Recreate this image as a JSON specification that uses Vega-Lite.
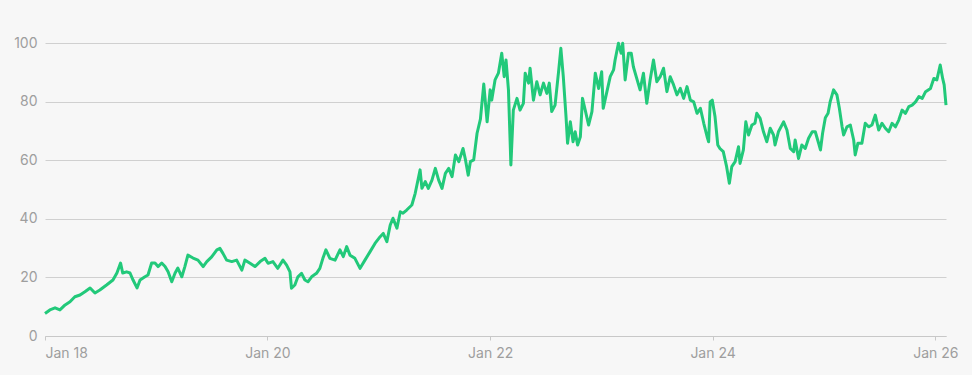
{
  "$schema": "https://vega.github.io/schema/vega-lite/v6.json",
  "width": 901,
  "height": 293,
  "autosize": "none",
  "padding": {"left": 45, "top": 43, "right": 26, "bottom": 39},
  "background": "#f7f7f7",
  "config": {
    "view": {"stroke": null},
    "font": "Inter",
    "axis": {"labelFont": "Inter", "labelColor": "#9e9e9e", "labelFontSize": 14, "titleFont": "Inter"}
  },
  "data": {
    "values": [
      {"d": "2018-01-01", "v": 7.7}, {"d": "2018-01-17", "v": 8.9}, {"d": "2018-02-03", "v": 9.6}, {"d": "2018-02-19", "v": 8.9},
      {"d": "2018-03-08", "v": 10.6}, {"d": "2018-03-24", "v": 11.7}, {"d": "2018-04-09", "v": 13.4}, {"d": "2018-04-26", "v": 14.0},
      {"d": "2018-05-12", "v": 15.1}, {"d": "2018-05-29", "v": 16.4}, {"d": "2018-06-14", "v": 14.7}, {"d": "2018-06-30", "v": 15.7},
      {"d": "2018-07-22", "v": 17.4}, {"d": "2018-08-12", "v": 19.1}, {"d": "2018-08-25", "v": 21.5}, {"d": "2018-09-06", "v": 24.9},
      {"d": "2018-09-13", "v": 21.5}, {"d": "2018-09-26", "v": 21.9}, {"d": "2018-10-07", "v": 21.5}, {"d": "2018-10-17", "v": 19.1},
      {"d": "2018-10-30", "v": 16.4}, {"d": "2018-11-09", "v": 19.1}, {"d": "2018-11-25", "v": 20.2}, {"d": "2018-12-05", "v": 20.8},
      {"d": "2018-12-17", "v": 24.9}, {"d": "2018-12-28", "v": 24.9},
      {"d": "2019-01-07", "v": 23.7}, {"d": "2019-01-19", "v": 24.9}, {"d": "2019-01-30", "v": 23.7}, {"d": "2019-02-09", "v": 21.9},
      {"d": "2019-02-21", "v": 18.5}, {"d": "2019-03-04", "v": 21.5}, {"d": "2019-03-13", "v": 23.2}, {"d": "2019-03-26", "v": 20.2},
      {"d": "2019-04-05", "v": 23.7}, {"d": "2019-04-15", "v": 27.6}, {"d": "2019-05-02", "v": 26.6}, {"d": "2019-05-18", "v": 25.9},
      {"d": "2019-06-04", "v": 23.7}, {"d": "2019-06-16", "v": 25.4}, {"d": "2019-07-02", "v": 27.0}, {"d": "2019-07-19", "v": 29.4},
      {"d": "2019-07-29", "v": 29.9}, {"d": "2019-08-08", "v": 28.2}, {"d": "2019-08-20", "v": 25.9}, {"d": "2019-09-06", "v": 25.4},
      {"d": "2019-09-22", "v": 25.9}, {"d": "2019-10-09", "v": 22.5}, {"d": "2019-10-19", "v": 25.9}, {"d": "2019-11-05", "v": 24.8},
      {"d": "2019-11-21", "v": 23.7}, {"d": "2019-12-08", "v": 25.4}, {"d": "2019-12-24", "v": 26.5},
      {"d": "2020-01-03", "v": 24.8}, {"d": "2020-01-19", "v": 25.4}, {"d": "2020-02-04", "v": 23.1}, {"d": "2020-02-21", "v": 25.9},
      {"d": "2020-03-04", "v": 24.2}, {"d": "2020-03-15", "v": 21.9}, {"d": "2020-03-20", "v": 16.3}, {"d": "2020-03-31", "v": 17.4},
      {"d": "2020-04-10", "v": 20.2}, {"d": "2020-04-22", "v": 21.4}, {"d": "2020-05-03", "v": 19.1}, {"d": "2020-05-13", "v": 18.5},
      {"d": "2020-05-25", "v": 20.2}, {"d": "2020-06-10", "v": 21.4}, {"d": "2020-06-21", "v": 23.1}, {"d": "2020-07-01", "v": 26.5},
      {"d": "2020-07-11", "v": 29.4}, {"d": "2020-07-24", "v": 26.5}, {"d": "2020-08-10", "v": 25.9}, {"d": "2020-08-26", "v": 29.4},
      {"d": "2020-09-06", "v": 27.1}, {"d": "2020-09-17", "v": 30.5}, {"d": "2020-09-28", "v": 27.6}, {"d": "2020-10-14", "v": 26.5},
      {"d": "2020-10-31", "v": 23.1}, {"d": "2020-11-16", "v": 25.9}, {"d": "2020-12-03", "v": 28.8}, {"d": "2020-12-19", "v": 31.6},
      {"d": "2021-01-05", "v": 33.9}, {"d": "2021-01-15", "v": 35.0}, {"d": "2021-01-27", "v": 32.2}, {"d": "2021-02-07", "v": 37.9},
      {"d": "2021-02-16", "v": 40.2}, {"d": "2021-03-01", "v": 36.8}, {"d": "2021-03-12", "v": 42.4}, {"d": "2021-03-21", "v": 41.9},
      {"d": "2021-04-02", "v": 43.0}, {"d": "2021-04-19", "v": 44.7}, {"d": "2021-04-30", "v": 48.7}, {"d": "2021-05-16", "v": 56.7},
      {"d": "2021-05-22", "v": 50.4}, {"d": "2021-06-02", "v": 52.7}, {"d": "2021-06-12", "v": 50.4}, {"d": "2021-06-24", "v": 53.2},
      {"d": "2021-07-05", "v": 57.2}, {"d": "2021-07-16", "v": 53.2}, {"d": "2021-07-27", "v": 50.4}, {"d": "2021-08-07", "v": 55.5},
      {"d": "2021-08-18", "v": 57.2}, {"d": "2021-08-29", "v": 54.4}, {"d": "2021-09-09", "v": 61.8}, {"d": "2021-09-20", "v": 59.5},
      {"d": "2021-10-04", "v": 64.0}, {"d": "2021-10-12", "v": 60.1}, {"d": "2021-10-21", "v": 54.9}, {"d": "2021-10-28", "v": 59.5},
      {"d": "2021-11-08", "v": 60.1}, {"d": "2021-11-19", "v": 69.2}, {"d": "2021-11-30", "v": 74.0}, {"d": "2021-12-11", "v": 86.0},
      {"d": "2021-12-22", "v": 73.1},
      {"d": "2022-01-01", "v": 84.0}, {"d": "2022-01-06", "v": 80.5}, {"d": "2022-01-17", "v": 87.4}, {"d": "2022-01-28", "v": 89.7},
      {"d": "2022-02-08", "v": 96.5}, {"d": "2022-02-16", "v": 88.5}, {"d": "2022-02-22", "v": 94.2}, {"d": "2022-03-02", "v": 84.0},
      {"d": "2022-03-10", "v": 58.4}, {"d": "2022-03-18", "v": 77.1}, {"d": "2022-03-30", "v": 81.1}, {"d": "2022-04-09", "v": 77.1},
      {"d": "2022-04-20", "v": 79.4}, {"d": "2022-04-26", "v": 89.7}, {"d": "2022-05-07", "v": 86.3}, {"d": "2022-05-12", "v": 91.4},
      {"d": "2022-05-23", "v": 80.5}, {"d": "2022-06-03", "v": 86.8}, {"d": "2022-06-14", "v": 82.3}, {"d": "2022-06-25", "v": 86.3},
      {"d": "2022-07-06", "v": 82.8}, {"d": "2022-07-14", "v": 86.3}, {"d": "2022-07-22", "v": 76.6}, {"d": "2022-08-02", "v": 78.8},
      {"d": "2022-08-13", "v": 89.7}, {"d": "2022-08-21", "v": 98.2}, {"d": "2022-08-29", "v": 88.5}, {"d": "2022-09-07", "v": 74.8},
      {"d": "2022-09-12", "v": 65.8}, {"d": "2022-09-21", "v": 73.1}, {"d": "2022-09-30", "v": 66.3}, {"d": "2022-10-07", "v": 69.7},
      {"d": "2022-10-15", "v": 65.2}, {"d": "2022-10-24", "v": 68.0}, {"d": "2022-10-31", "v": 81.1}, {"d": "2022-11-09", "v": 77.1},
      {"d": "2022-11-20", "v": 72.0}, {"d": "2022-12-01", "v": 76.6}, {"d": "2022-12-12", "v": 89.7}, {"d": "2022-12-23", "v": 84.5},
      {"d": "2023-01-02", "v": 90.2}, {"d": "2023-01-07", "v": 77.7}, {"d": "2023-01-13", "v": 80.5}, {"d": "2023-01-30", "v": 88.5},
      {"d": "2023-02-10", "v": 90.8}, {"d": "2023-02-15", "v": 94.2}, {"d": "2023-02-26", "v": 99.9}, {"d": "2023-03-07", "v": 96.5},
      {"d": "2023-03-12", "v": 99.9}, {"d": "2023-03-20", "v": 87.4}, {"d": "2023-03-31", "v": 96.5}, {"d": "2023-04-09", "v": 96.5},
      {"d": "2023-04-16", "v": 91.9}, {"d": "2023-04-27", "v": 87.9}, {"d": "2023-05-08", "v": 84.0}, {"d": "2023-05-19", "v": 89.7},
      {"d": "2023-05-30", "v": 79.4}, {"d": "2023-06-10", "v": 87.4}, {"d": "2023-06-21", "v": 94.2}, {"d": "2023-07-02", "v": 86.8},
      {"d": "2023-07-13", "v": 88.5}, {"d": "2023-07-24", "v": 91.4}, {"d": "2023-08-04", "v": 83.4}, {"d": "2023-08-15", "v": 88.5},
      {"d": "2023-08-26", "v": 85.7}, {"d": "2023-09-06", "v": 82.3}, {"d": "2023-09-17", "v": 84.5}, {"d": "2023-09-28", "v": 81.1},
      {"d": "2023-10-09", "v": 85.1}, {"d": "2023-10-20", "v": 80.5}, {"d": "2023-10-31", "v": 79.9}, {"d": "2023-11-11", "v": 76.0},
      {"d": "2023-11-22", "v": 77.7}, {"d": "2023-12-03", "v": 72.6}, {"d": "2023-12-14", "v": 68.0}, {"d": "2023-12-19", "v": 66.3},
      {"d": "2023-12-24", "v": 79.9}, {"d": "2023-12-31", "v": 80.5},
      {"d": "2024-01-09", "v": 74.8}, {"d": "2024-01-18", "v": 65.2}, {"d": "2024-01-25", "v": 64.0}, {"d": "2024-02-05", "v": 62.9},
      {"d": "2024-02-16", "v": 57.8}, {"d": "2024-02-25", "v": 52.1}, {"d": "2024-03-04", "v": 57.8}, {"d": "2024-03-15", "v": 59.5},
      {"d": "2024-03-26", "v": 64.6}, {"d": "2024-03-31", "v": 58.9}, {"d": "2024-04-11", "v": 63.5}, {"d": "2024-04-19", "v": 73.1},
      {"d": "2024-04-28", "v": 68.6}, {"d": "2024-05-09", "v": 72.0}, {"d": "2024-05-19", "v": 72.6}, {"d": "2024-05-25", "v": 76.0},
      {"d": "2024-06-05", "v": 74.3}, {"d": "2024-06-16", "v": 69.7}, {"d": "2024-06-27", "v": 66.3}, {"d": "2024-07-08", "v": 70.9},
      {"d": "2024-07-19", "v": 68.6}, {"d": "2024-07-24", "v": 65.2}, {"d": "2024-08-04", "v": 69.7}, {"d": "2024-08-21", "v": 73.1},
      {"d": "2024-09-01", "v": 70.3}, {"d": "2024-09-12", "v": 64.0}, {"d": "2024-09-23", "v": 62.9}, {"d": "2024-09-28", "v": 66.9},
      {"d": "2024-10-09", "v": 60.6}, {"d": "2024-10-20", "v": 65.2}, {"d": "2024-10-31", "v": 64.0}, {"d": "2024-11-11", "v": 67.5},
      {"d": "2024-11-23", "v": 69.7}, {"d": "2024-12-03", "v": 69.7}, {"d": "2024-12-14", "v": 65.8}, {"d": "2024-12-20", "v": 63.5},
      {"d": "2024-12-27", "v": 69.2},
      {"d": "2025-01-05", "v": 74.5}, {"d": "2025-01-14", "v": 76.0}, {"d": "2025-01-21", "v": 80.0}, {"d": "2025-02-01", "v": 84.0},
      {"d": "2025-02-12", "v": 82.3}, {"d": "2025-02-20", "v": 77.7}, {"d": "2025-03-01", "v": 71.4}, {"d": "2025-03-06", "v": 68.6},
      {"d": "2025-03-17", "v": 71.4}, {"d": "2025-03-28", "v": 72.0}, {"d": "2025-04-08", "v": 66.9}, {"d": "2025-04-13", "v": 61.8},
      {"d": "2025-04-22", "v": 65.8}, {"d": "2025-05-05", "v": 65.8}, {"d": "2025-05-16", "v": 72.6}, {"d": "2025-05-27", "v": 71.4},
      {"d": "2025-06-07", "v": 72.0}, {"d": "2025-06-18", "v": 75.4}, {"d": "2025-06-29", "v": 70.3}, {"d": "2025-07-10", "v": 72.6},
      {"d": "2025-07-21", "v": 70.9}, {"d": "2025-08-01", "v": 69.7}, {"d": "2025-08-12", "v": 72.6}, {"d": "2025-08-23", "v": 71.4},
      {"d": "2025-09-03", "v": 73.7}, {"d": "2025-09-14", "v": 77.1}, {"d": "2025-09-25", "v": 76.0}, {"d": "2025-10-06", "v": 78.3},
      {"d": "2025-10-17", "v": 78.8}, {"d": "2025-10-28", "v": 79.9}, {"d": "2025-11-08", "v": 81.7}, {"d": "2025-11-19", "v": 81.1},
      {"d": "2025-11-30", "v": 83.4}, {"d": "2025-12-16", "v": 84.5}, {"d": "2025-12-27", "v": 87.9},
      {"d": "2026-01-06", "v": 87.4}, {"d": "2026-01-17", "v": 92.5}, {"d": "2026-01-25", "v": 87.9}, {"d": "2026-01-30", "v": 85.7},
      {"d": "2026-02-05", "v": 78.8}
    ]
  },
  "mark": {"type": "line", "color": "#22c97a", "strokeWidth": 3, "strokeJoin": "round"},
  "encoding": {
    "x": {
      "field": "d",
      "type": "temporal",
      "axis": {
        "title": null,
        "format": "%b %y",
        "tickCount": {"interval": "year", "step": 2},
        "grid": false,
        "domainColor": "#c8c8c8",
        "tickColor": "#c8c8c8",
        "tickSize": 4,
        "labelPadding": 6,
        "labelAngle": 0
      }
    },
    "y": {
      "field": "v",
      "type": "quantitative",
      "scale": {"domain": [0, 100], "nice": false},
      "axis": {
        "title": null,
        "values": [0, 20, 40, 60, 80, 100],
        "domain": false,
        "ticks": false,
        "gridColor": "#d0d0d0",
        "labelPadding": 8
      }
    }
  }
}
